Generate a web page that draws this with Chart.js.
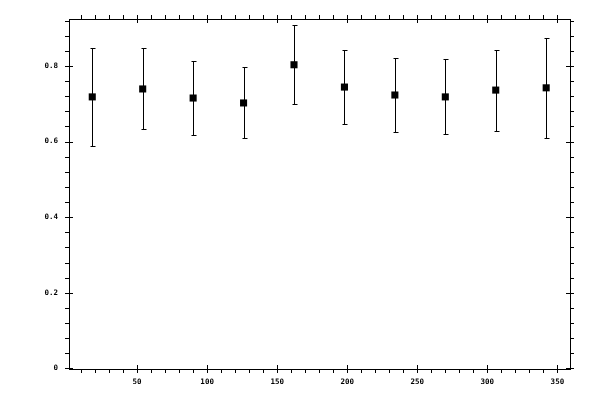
<!DOCTYPE html>
<html lang="en">
<head>
<meta charset="UTF-8">
<title>Error bar plot</title>
<script src="https://cdn.jsdelivr.net/npm/chart.js"></script>
<style>
  body { margin: 0; background: #fff; }
</style>
</head>
<body>
<canvas id="plot" width="600" height="400"></canvas>
<script>
// data
const angles = [18, 54, 90, 126, 162, 198, 234, 270, 306, 342];
const values = [0.718, 0.739, 0.715, 0.702, 0.803, 0.744, 0.723, 0.718, 0.736, 0.742];
const errors = [0.130, 0.107, 0.099, 0.094, 0.104, 0.098, 0.099, 0.099, 0.107, 0.132];
const xTicks = [50, 100, 150, 200, 250, 300, 350];
const yTicks = [0, 0.2, 0.4, 0.6, 0.8];

const xRange = [1.4, 359];
const yRange = [-0.0016, 0.924];
const labelFont = { family: 'DejaVu Sans Mono', size: 7.5, weight: 'bold' };

// vertical error bars with small caps, drawn under the markers
const errorBars = {
  id: 'errorBars',
  beforeDatasetsDraw(chart) {
    const ctx = chart.ctx;
    const y = chart.scales.y;
    const pts = chart.getDatasetMeta(0).data;
    ctx.save();
    ctx.strokeStyle = '#000';
    ctx.lineWidth = 1;
    ctx.beginPath();
    pts.forEach((p, i) => {
      const px = Math.round(p.x) + 0.5;
      const hi = Math.round(y.getPixelForValue(values[i] + errors[i])) + 0.5;
      const lo = Math.round(y.getPixelForValue(values[i] - errors[i])) + 0.5;
      ctx.moveTo(px, hi); ctx.lineTo(px, lo);
      ctx.moveTo(px - 2, hi); ctx.lineTo(px + 3, hi);
      ctx.moveTo(px - 2, lo); ctx.lineTo(px + 3, lo);
    });
    ctx.stroke();
    ctx.restore();
  }
};

// major ticks cross the frame, minor ticks point outwards, on all four sides
const frameTicks = {
  id: 'frameTicks',
  afterDraw(chart) {
    const { ctx, chartArea: a, scales: { x, y } } = chart;
    ctx.save();
    ctx.strokeStyle = '#000';
    ctx.lineWidth = 1;
    ctx.beginPath();
    for (let v = 10; v <= 350; v += 10) {
      const px = Math.round(x.getPixelForValue(v)) + 0.5;
      const inner = xTicks.includes(v) ? 4 : 0;
      ctx.moveTo(px, a.bottom - inner); ctx.lineTo(px, a.bottom + 4);
      ctx.moveTo(px, a.top + inner); ctx.lineTo(px, a.top - 4);
    }
    for (let i = 0; i <= 23; i++) {
      const v = i * 0.04;
      const py = Math.round(y.getPixelForValue(v)) + 0.5;
      const inner = i % 5 === 0 ? 4 : 0;
      ctx.moveTo(a.left + inner, py); ctx.lineTo(a.left - 4, py);
      ctx.moveTo(a.right - inner, py); ctx.lineTo(a.right + 4, py);
    }
    ctx.stroke();
    ctx.restore();
  }
};

const frameAxis = (position, size) => ({
  type: 'linear',
  position: position,
  min: position === 'top' || position === 'bottom' ? xRange[0] : yRange[0],
  max: position === 'top' || position === 'bottom' ? xRange[1] : yRange[1],
  grid: { display: false, drawTicks: false },
  border: { display: true, color: '#000', width: 1 },
  ticks: { display: false },
  afterFit(s) {
    if (position === 'top' || position === 'bottom') s.height = size; else s.width = size;
  }
});

new Chart(document.getElementById('plot'), {
  type: 'scatter',
  data: {
    datasets: [{
      data: angles.map((a, i) => ({ x: a, y: values[i] })),
      pointStyle: 'rect',
      pointRadius: 5,
      pointHoverRadius: 5,
      backgroundColor: '#000',
      borderWidth: 0
    }]
  },
  options: {
    responsive: false,
    animation: false,
    devicePixelRatio: 1,
    layout: { padding: 0 },
    plugins: { legend: { display: false }, tooltip: { enabled: false } },
    scales: {
      x: {
        type: 'linear',
        position: 'bottom',
        min: xRange[0],
        max: xRange[1],
        afterBuildTicks(s) { s.ticks = xTicks.map(v => ({ value: v })); },
        grid: { display: false, drawTicks: false },
        border: { display: true, color: '#000', width: 1 },
        ticks: { color: '#000', font: labelFont, padding: 9, maxRotation: 0 },
        afterFit(s) { s.height = 31; }
      },
      y: {
        type: 'linear',
        position: 'left',
        min: yRange[0],
        max: yRange[1],
        afterBuildTicks(s) { s.ticks = yTicks.map(v => ({ value: v })); },
        grid: { display: false, drawTicks: false },
        border: { display: true, color: '#000', width: 1 },
        ticks: { color: '#000', font: labelFont, padding: 11 },
        afterFit(s) { s.width = 69; }
      },
      x2: frameAxis('top', 19),
      y2: frameAxis('right', 30)
    }
  },
  plugins: [errorBars, frameTicks]
});
</script>
</body>
</html>
